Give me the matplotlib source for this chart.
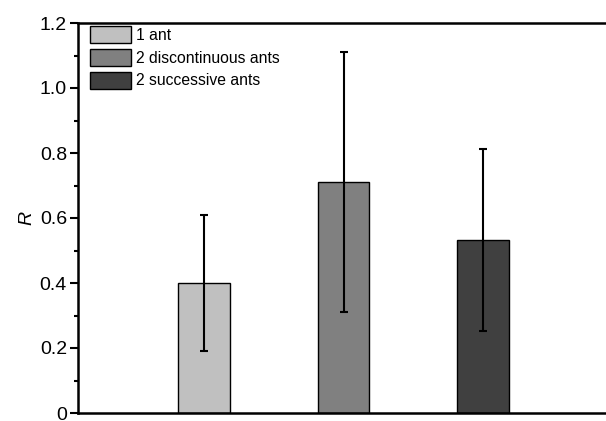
# bar chart of R for the three ant groups, with error bars
import matplotlib.pyplot as plt
from matplotlib.ticker import MultipleLocator, FuncFormatter

labels = ["1 ant", "2 discontinuous ants", "2 successive ants"]
r_mean = [0.40, 0.712, 0.532]
r_err = [0.21, 0.40, 0.28]
colors = ["#c0c0c0", "#808080", "#404040"]

plt.rcParams["font.family"] = ["Liberation Sans", "DejaVu Sans"]


def plot_results():
    fig = plt.figure(figsize=(6.06, 4.21), dpi=100)
    W, H = 606, 421
    ax = fig.add_axes([78 / W, (H - 413) / H, (609 - 78) / W, (413 - 23) / H])

    x = [1, 2, 3]
    for i in range(3):
        ax.bar(x[i], r_mean[i], width=0.37, color=colors[i], edgecolor="black",
               linewidth=1.0, label=labels[i], zorder=2)
        ax.errorbar(x[i], r_mean[i], yerr=r_err[i], fmt="none", ecolor="black",
                    elinewidth=1.5, capsize=2.6, capthick=1.5, zorder=3)

    ax.set_xlim(0.1, 3.9)
    ax.set_ylim(0, 1.2)
    ax.set_xticks([])
    ax.yaxis.set_major_locator(MultipleLocator(0.2))
    ax.yaxis.set_minor_locator(MultipleLocator(0.1))
    ax.yaxis.set_major_formatter(FuncFormatter(lambda v, p: "0" if abs(v) < 1e-9 else "%.1f" % v))
    ax.tick_params(axis="y", which="major", direction="out", length=6, width=1.5, labelsize=14, pad=2)
    ax.tick_params(axis="y", which="minor", direction="out", length=3, width=1.5)
    for s in ["left", "bottom", "top"]:
        ax.spines[s].set_linewidth(1.8)
    ax.spines["right"].set_visible(False)

    ax.set_ylabel("R", fontsize=14, fontstyle="italic", labelpad=3)

    ax.legend(loc="upper left", bbox_to_anchor=(12 / 531, 1 - 3 / 390), frameon=False,
              fontsize=11.3, handlelength=2.6, handleheight=1.3, labelspacing=0.36,
              handletextpad=0.3, borderpad=0, borderaxespad=0)

    fig.savefig("out.png", dpi=100)


if __name__ == "__main__":
    plot_results()
